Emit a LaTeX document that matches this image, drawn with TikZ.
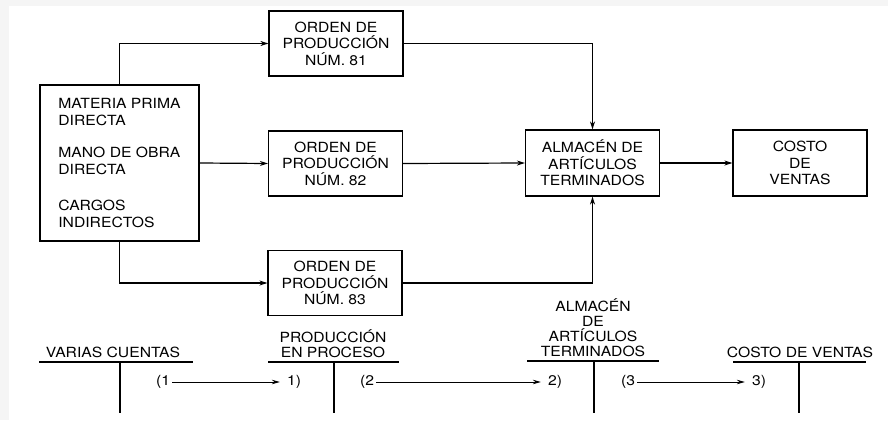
\documentclass[tikz,border=0pt]{standalone}
\usepackage{fontspec}
\setmainfont{TeX Gyre Heros}[FakeStretch=1.12]
\usepackage{tikz}
\usetikzlibrary{arrows.meta}

\begin{document}
\begin{tikzpicture}[
        x=1pt, y=-1pt,
        font=\fontsize{14}{16.5}\selectfont,
        box/.style = {draw, rectangle, line width=1.2pt, minimum width=134pt, minimum height=65pt, align=center, inner sep=2pt},
        inbox/.style = {draw, rectangle, line width=1.2pt, minimum width=159pt, minimum height=156pt, align=left, inner sep=2pt},
        arrow/.style = {-{Stealth[length=8pt,width=5pt]}, line width=1.2pt},
        cuenta/.style = {anchor=south, align=center, inner sep=2pt, font=\fontsize{14}{15}\selectfont},
        tline/.style = {line width=1.1pt},
        flecha/.style = {-{Stealth[length=8pt,width=4.5pt]}, line width=0.9pt},
        asiento/.style = {inner sep=2pt, font=\fontsize{14}{15}\selectfont}
    ]
    \useasboundingbox (0,0) rectangle (888,420);
    \fill[black!4] (0,0) rectangle (888,420);
    \fill[white] (9,6) rectangle (888,420);

    % Cost elements on the left
    \node[inbox] (insumos) at (119.5,163) {MATERIA PRIMA\\DIRECTA\\[16pt]MANO DE OBRA\\DIRECTA\\[20pt]CARGOS\\INDIRECTOS};

    % Production orders
    \node[box] (op81) at (336,43.5) {ORDEN DE\\PRODUCCIÓN\\NÚM. 81};
    \node[box] (op82) at (335.5,163.5) {ORDEN DE\\PRODUCCIÓN\\NÚM. 82};
    \node[box] (op83) at (335,283) {ORDEN DE\\PRODUCCIÓN\\NÚM. 83};

    % Warehouse and cost of sales
    \node[box, minimum height=66pt] (alm) at (592.5,163) {ALMACÉN DE\\ARTÍCULOS\\TERMINADOS};
    \node[box, minimum height=66pt] (costo) at (800,163) {COSTO\\DE\\VENTAS};

    % Draw arrows
    \draw[arrow] (insumos.north) |- (op81.west);
    \draw[arrow] (insumos.east) -- (op82.west);
    \draw[arrow] (insumos.south) |- (op83.west);
    \draw[arrow] (op81.east) -| (alm.north);
    \draw[arrow] (op82.east) -- (alm.west);
    \draw[arrow] (op83.east) -| (alm.south);
    \draw[arrow] (alm.east) -- (costo.west);

    % T accounts below
    \node[cuenta] (va) at (113,360) {VARIAS CUENTAS};
    \draw[tline] (39,362) -- (193,362);
    \draw[tline] (120,362) -- (120,413);

    \node[cuenta] (pp) at (333,360) {PRODUCCIÓN\\EN PROCESO};
    \draw[tline] (268,362) -- (399,362);
    \draw[tline] (334,362) -- (334,413);

    \node[cuenta] (at) at (593,359) {ALMACÉN\\DE\\ARTÍCULOS\\TERMINADOS};
    \draw[tline] (527,361) -- (659,361);
    \draw[tline] (594,361) -- (594,413);

    \node[cuenta] (cv) at (800,360) {COSTO DE VENTAS};
    \draw[tline] (733,362) -- (866,362);
    \draw[tline] (799,362) -- (799,413);

    % Entries passed between accounts
    \node[asiento] (c1) at (163,382) {(1};
    \node[asiento] (d1) at (294,382) {1)};
    \node[asiento] (c2) at (367,382) {(2};
    \node[asiento] (d2) at (555,382) {2)};
    \node[asiento] (c3) at (628,382) {(3};
    \node[asiento] (d3) at (759,382) {3)};
    \draw[flecha] (c1.east) -- ([xshift=-5pt]d1.west);
    \draw[flecha] (c2.east) -- ([xshift=-5pt]d2.west);
    \draw[flecha] (c3.east) -- ([xshift=-5pt]d3.west);

\end{tikzpicture}
\end{document}
